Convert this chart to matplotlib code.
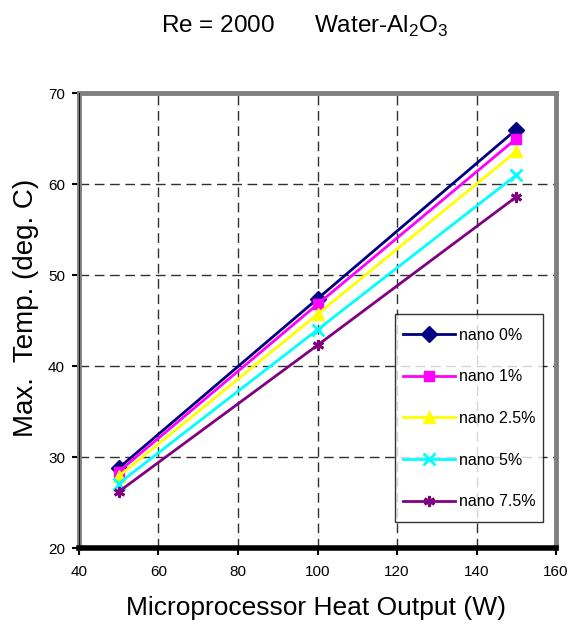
import matplotlib
matplotlib.use('Agg')
import matplotlib.pyplot as plt
from matplotlib.path import Path

plt.rcParams['font.family'] = ['Liberation Sans', 'DejaVu Sans']
plt.rcParams['mathtext.fontset'] = 'custom'
plt.rcParams['mathtext.rm'] = 'Liberation Sans'

# ── Data ───────────────────────────────────────────────────────
heat_w = [50, 100, 150]
nano_0 = [28.8, 47.4, 66.0]
nano_1 = [28.4, 46.8, 65.0]
nano_25 = [27.9, 45.7, 63.6]
nano_5 = [27.1, 44.0, 61.0]
nano_75 = [26.2, 42.3, 58.6]
labels = ['nano 0%', 'nano 1%', 'nano 2.5%', 'nano 5%', 'nano 7.5%']

series = [nano_0, nano_1, nano_25, nano_5, nano_75]
colors = ['#000080', '#ff00ff', '#ffff00', '#00ffff', '#800080']
markers = ['D', 's', '^', 'x', (6, 2, 0)]
msizes = [8, 7, 8, 9, 8]

fig = plt.figure(figsize=(5.68, 6.25), dpi=100)
ax = fig.add_axes([0.139, 0.123, 0.840, 0.728])

for y, c, m, ms, lab in zip(series, colors, markers, msizes, labels):
    ax.plot(heat_w, y, color=c, marker=m, markersize=ms, linewidth=2,
            markeredgewidth=2 if m in ('x', (6, 2, 0)) else 1,
            markeredgecolor=c, label=lab)

ax.set_xlim(40, 160)
ax.set_ylim(20, 70)
ax.set_xticks(range(40, 161, 20))
ax.set_yticks(range(20, 71, 10))
ax.grid(True, color='#303030', linestyle=(0, (7, 4)), linewidth=1)
ax.set_axisbelow(True)
ax.tick_params(labelsize=11, length=5, width=1.5, direction='out', pad=5)
ax.tick_params(axis='x', pad=7)

# gray plot-area border, black axis lines on left/bottom
for side in ['top', 'right', 'left']:
    ax.spines[side].set_color('#808080')
    ax.spines[side].set_linewidth(3.5)
ax.spines['bottom'].set_color('black')
ax.spines['bottom'].set_linewidth(4)
ax.axvline(ax.get_xlim()[0], color='black', linewidth=1.2, zorder=5)

ax.set_xlabel('Microprocessor Heat Output (W)', fontsize=19)
ax.set_ylabel('Max.  Temp. (deg. C)', fontsize=20)
ax.xaxis.set_label_coords(0.497, -0.106)
ax.yaxis.set_label_coords(-0.112, 0.527)
ax.xaxis.label.set_va('top')
ax.yaxis.label.set_va('center')

fig.text(0.537, 0.958, r'Re = 2000      Water-Al$_2$O$_3$', fontsize=17.5,
         ha='center', va='center')


# legend frame: taller padding on top/bottom than on the sides
def tall_box(x0, y0, width, height, mutation_size):
    dy = 0.33 * mutation_size
    y0, y1 = y0 - dy, y0 + height + dy
    x1 = x0 + width
    return Path([(x0, y0), (x1, y0), (x1, y1), (x0, y1), (x0, y0)], closed=True)


leg = ax.legend(loc='lower right', bbox_to_anchor=(0.973, 0.068),
                fontsize=11.5, frameon=True, fancybox=False, edgecolor='black',
                borderpad=0.5, labelspacing=1.67,
                handlelength=3.25, handletextpad=0.2, borderaxespad=0)
leg.get_frame().set_boxstyle(tall_box)
leg.get_frame().set_linewidth(1)

fig.savefig('out.png', dpi=100)
